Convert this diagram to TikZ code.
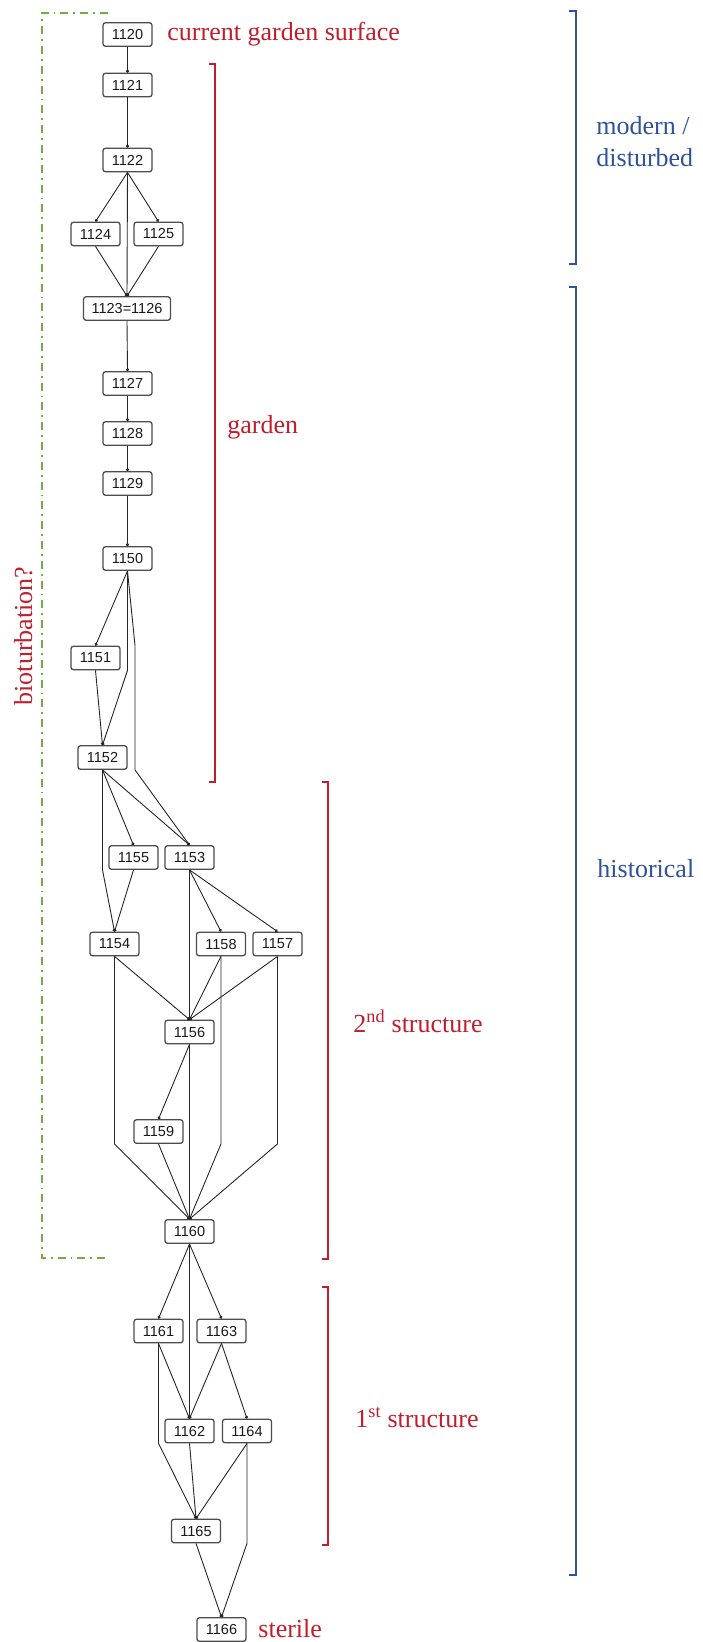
\documentclass[tikz,border=0pt]{standalone}
\usepackage{fontspec}
\setmainfont{Liberation Serif}
\setsansfont{Liberation Sans}
\usepackage{tikz}
\usetikzlibrary{positioning,arrows.meta,calc}
\definecolor{hmred}{RGB}{192,30,45}
\definecolor{hmblue}{RGB}{47,82,153}
\definecolor{hmgreen}{RGB}{112,173,71}

\begin{document}
\begin{tikzpicture}[x=1pt,y=-1pt,
  >={Circle[length=3pt]}, line width=.9pt,
  unit/.style={draw=black!70,rounded corners=2.5pt,minimum width=49pt,minimum height=23.5pt,inner xsep=8pt,inner ysep=0pt,line width=1.3pt,text=black!90,font=\sffamily\fontsize{14.5}{16}\selectfont},
  rel/.style={->,draw=black!85},
  lab/.style={inner sep=0pt,anchor=base west,font=\fontsize{26}{32}\selectfont},
  rbr/.style={draw=hmred,line width=2.2pt},
  bbr/.style={draw=hmblue,line width=2.2pt}
]
  \useasboundingbox (0,0) rectangle (702,1642);
  % units
  \node[unit] (n1120) at (127.5,34.5) {1120};
  \node[unit] (n1121) at (127.5,85) {1121};
  \node[unit] (n1122) at (127.5,160) {1122};
  \node[unit] (n1124) at (95.5,234) {1124};
  \node[unit] (n1125) at (158.5,234) {1125};
  \node[unit] (n1123) at (127,308.5) {1123=1126};
  \node[unit] (n1127) at (127.5,383.5) {1127};
  \node[unit] (n1128) at (127.5,433.5) {1128};
  \node[unit] (n1129) at (127.5,483.5) {1129};
  \node[unit] (n1150) at (127.5,558.5) {1150};
  \node[unit] (n1151) at (95.5,658) {1151};
  \node[unit] (n1152) at (102.5,757.5) {1152};
  \node[unit] (n1155) at (133.5,857.5) {1155};
  \node[unit] (n1153) at (189.5,857.5) {1153};
  \node[unit] (n1154) at (114.5,944) {1154};
  \node[unit] (n1158) at (221,944) {1158};
  \node[unit] (n1157) at (277.5,944) {1157};
  \node[unit] (n1156) at (189.5,1032) {1156};
  \node[unit] (n1159) at (158.5,1131.5) {1159};
  \node[unit] (n1160) at (189.5,1231.5) {1160};
  \node[unit] (n1161) at (158.5,1331) {1161};
  \node[unit] (n1163) at (221.5,1331) {1163};
  \node[unit] (n1162) at (189.5,1431) {1162};
  \node[unit] (n1164) at (247,1431) {1164};
  \node[unit] (n1165) at (196,1531) {1165};
  \node[unit] (n1166) at (221.5,1629.5) {1166};
  % relations
  \draw[rel] (n1120.south) -- (n1121.north);
  \draw[rel] (n1121.south) -- (n1122.north);
  \draw[rel] (n1122.south) -- (n1124.north);
  \draw[rel] (n1122.south) -- (n1125.north);
  \draw[rel] (n1122.south) -- (n1123.north);
  \draw[rel] (n1124.south) -- (n1123.north);
  \draw[rel] (n1125.south) -- (n1123.north);
  \draw[rel] (n1123.south) -- (n1127.north);
  \draw[rel] (n1127.south) -- (n1128.north);
  \draw[rel] (n1128.south) -- (n1129.north);
  \draw[rel] (n1129.south) -- (n1150.north);
  \draw[rel] (n1150.south) -- (n1151.north);
  \draw[rel] (n1150.south) -- (n1150.south |- n1151.south) -- (n1152.north);
  \draw[rel] (n1150.south) -- ([xshift=7.5pt]n1150.south |- n1151.north)
    -- ([xshift=7.5pt]n1150.south |- n1152.south) -- (n1153.north);
  \draw[rel] (n1151.south) -- (n1152.north);
  \draw[rel] (n1152.south) -- (n1152.south |- n1155.south) -- (n1154.north);
  \draw[rel] (n1152.south) -- (n1155.north);
  \draw[rel] (n1152.south) -- (n1153.north);
  \draw[rel] (n1155.south) -- (n1154.north);
  \draw[rel] (n1153.south) -- (n1158.north);
  \draw[rel] (n1153.south) -- (n1157.north);
  \draw[rel] (n1153.south) -- (n1156.north);
  \draw[rel] (n1154.south) -- (n1156.north);
  \draw[rel] (n1158.south) -- (n1156.north);
  \draw[rel] (n1157.south) -- (n1156.north);
  \draw[rel] (n1156.south) -- (n1159.north);
  \draw[rel] (n1156.south) -- (n1160.north);
  \draw[rel] (n1159.south) -- (n1160.north);
  \draw[rel] (n1154.south) -- (n1154.south |- n1159.south) -- (n1160.north);
  \draw[rel] (n1158.south) -- (n1158.south |- n1159.south) -- (n1160.north);
  \draw[rel] (n1157.south) -- (n1157.south |- n1159.south) -- (n1160.north);
  \draw[rel] (n1160.south) -- (n1161.north);
  \draw[rel] (n1160.south) -- (n1162.north);
  \draw[rel] (n1160.south) -- (n1163.north);
  \draw[rel] (n1161.south) -- (n1162.north);
  \draw[rel] (n1163.south) -- (n1162.north);
  \draw[rel] (n1163.south) -- (n1164.north);
  \draw[rel] (n1161.south) -- (n1161.south |- n1162.south) -- (n1165.north);
  \draw[rel] (n1162.south) -- (n1165.north);
  \draw[rel] (n1164.south) -- (n1165.north);
  \draw[rel] (n1164.south) -- (n1164.south |- n1165.south) -- (n1166.north);
  \draw[rel] (n1165.south) -- (n1166.north);
  % phases
  \draw[rbr] (209,64) -- (215,64) -- (215,782) -- (209,782);
  \draw[rbr] (322,782) -- (328,782) -- (328,1259) -- (322,1259);
  \draw[rbr] (322,1287) -- (328,1287) -- (328,1545) -- (322,1545);
  \draw[bbr] (569,11) -- (576,11) -- (576,264) -- (569,264);
  \draw[bbr] (569,287) -- (576,287) -- (576,1575) -- (569,1575);
  \draw[hmgreen,line width=2.2pt,dash pattern=on 8pt off 5pt on 1.8pt off 5pt]
    (108,13) -- (42,13) -- (42,1258) -- (105,1258);
  % labels
  \node[lab,text=hmred] (surf) at (167,40) {current garden surface};
  \node[lab,text=hmred] (gard) at (227,433) {garden};
  \node[lab,text=hmred] (str2) at (353,1032) {2\textsuperscript{nd} structure};
  \node[lab,text=hmred] (str1) at (355,1427) {1\textsuperscript{st} structure};
  \node[lab,text=hmred] (ster) at (258,1637) {sterile};
  \node[lab,text=hmred,anchor=base,rotate=90] (biot) at (32,636) {bioturbation?};
  \node[lab,text=hmblue,anchor=west,align=left] (mod) at (596,142) {modern /\\disturbed};
  \node[lab,text=hmblue] (hist) at (597,877) {historical};
\end{tikzpicture}
\end{document}
